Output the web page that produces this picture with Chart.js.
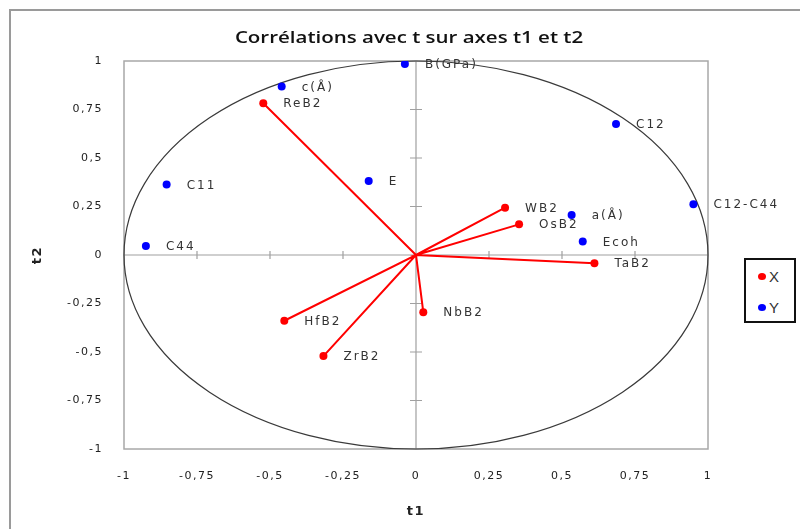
<!DOCTYPE html>
<html>
<head>
<meta charset="utf-8">
<script src="https://cdn.jsdelivr.net/npm/chart.js@4/dist/chart.umd.min.js"></script>
<style>
  html, body { margin: 0; padding: 0; background: #fff; }
  #wrap { position: relative; width: 800px; height: 529px; overflow: hidden; }
  #frame { position: absolute; left: 9px; top: 9px; width: 820px; height: 540px;
           border-left: 2px solid #9a9a9a; border-top: 2px solid #9a9a9a; }
  #chart { position: absolute; left: 0; top: 0; }
  #title { position: absolute; left: 0; width: 818px; top: 26px; text-align: center;
           font: 600 16px "Open Sans", sans-serif; color: #111; line-height: 22px;
           transform: scaleX(1.28); transform-origin: 409px 0; }
  #legend { position: absolute; left: 744px; top: 258px; width: 48px; height: 61px;
            border: 2px solid #111; background: #fff; }
  .item { position: absolute; left: 12px; height: 16px; display: flex; align-items: center;
          font: 15px "Liberation Sans", sans-serif; color: #333; }
  .dot { width: 8px; height: 7px; border-radius: 50%; margin-right: 3px; }
</style>
</head>
<body>
<div id="wrap">
  <div id="frame"></div>
  <canvas id="chart" width="800" height="529"></canvas>
  <div id="title">Corrélations avec t sur axes t1 et t2</div>
  <div id="legend"></div>
</div>
<script>
// Variables X (drawn as rays from the origin)
const xNames = ['ReB2', 'WB2', 'OsB2', 'TaB2', 'NbB2', 'HfB2', 'ZrB2'];
const xT1 = [-0.523, 0.305, 0.353, 0.611, 0.025, -0.451, -0.317];
const xT2 = [0.782, 0.244, 0.158, -0.043, -0.295, -0.339, -0.521];

// Variables Y (drawn as points)
const yNames = ['B(GPa)', 'c(Å)', 'C11', 'C44', 'E', 'C12', 'C12-C44', 'a(Å)', 'Ecoh'];
const yT1 = [-0.038, -0.460, -0.854, -0.925, -0.162, 0.685, 0.950, 0.533, 0.571];
const yT2 = [0.985, 0.868, 0.364, 0.046, 0.381, 0.675, 0.261, 0.206, 0.069];

// Axis ticks
const tickValues = [-1, -0.75, -0.5, -0.25, 0, 0.25, 0.5, 0.75, 1];
const tickLabels = ['-1', '-0,75', '-0,5', '-0,25', '0', '0,25', '0,5', '0,75', '1'];

const RED = '#ff0000';
const BLUE = '#0000ff';

// Each X variable becomes a segment origin -> point
const rayData = [];
xNames.forEach((n, i) => {
  rayData.push({ x: 0, y: 0 });
  rayData.push({ x: xT1[i], y: xT2[i], name: n });
});
const yData = yNames.map((n, i) => ({ x: yT1[i], y: yT2[i], name: n }));

const tickFont = { family: 'DejaVu Sans', size: 11 };

// Frame, zero axes with cross ticks, and the unit correlation circle
const axesPlugin = {
  id: 'axesCircle',
  beforeDraw(chart) {
    chart.ctx.letterSpacing = '1.5px';
  },
  beforeDatasetsDraw(chart) {
    const { ctx, chartArea: a, scales: { x, y } } = chart;
    ctx.save();
    ctx.letterSpacing = '0px';
    ctx.strokeStyle = '#a8a8a8';
    ctx.lineWidth = 1.5;
    ctx.strokeRect(a.left, a.top, a.right - a.left, a.bottom - a.top);

    const x0 = x.getPixelForValue(0), y0 = y.getPixelForValue(0);
    ctx.strokeStyle = '#a0a0a0';
    ctx.lineWidth = 1.2;
    ctx.beginPath();
    ctx.moveTo(a.left, y0); ctx.lineTo(a.right, y0);
    ctx.moveTo(x0, a.top); ctx.lineTo(x0, a.bottom);
    tickValues.forEach(v => {
      if (v === 0 || Math.abs(v) === 1) return;
      const px = x.getPixelForValue(v);
      ctx.moveTo(px, y0 - 4); ctx.lineTo(px, y0 + 4);
      const py = y.getPixelForValue(v);
      ctx.moveTo(x0 - 6, py); ctx.lineTo(x0 + 6, py);
    });
    ctx.stroke();

    const rx = x.getPixelForValue(1) - x0;
    const ry = y0 - y.getPixelForValue(1);
    ctx.strokeStyle = '#3a3a3a';
    ctx.lineWidth = 1.2;
    ctx.beginPath();
    ctx.ellipse(x0, y0, rx, ry, 0, 0, Math.PI * 2);
    ctx.stroke();
    ctx.restore();
  },
  afterDatasetsDraw(chart) {
    const { ctx } = chart;
    ctx.save();
    ctx.letterSpacing = '2px';
    ctx.font = '12px "DejaVu Sans"';
    ctx.fillStyle = '#333';
    ctx.textAlign = 'left';
    ctx.textBaseline = 'middle';
    chart.data.datasets.forEach((ds, di) => {
      const meta = chart.getDatasetMeta(di);
      meta.data.forEach((el, i) => {
        const raw = ds.data[i];
        if (!raw.name) return;
        ctx.fillText(raw.name, el.x + 20, el.y + 1);
      });
    });
    ctx.restore();
  }
};

const chart = new Chart(document.getElementById('chart'), {
  type: 'scatter',
  data: {
    datasets: [
      {
        label: 'X',
        data: rayData,
        showLine: true,
        borderColor: RED,
        borderWidth: 2,
        backgroundColor: RED,
        pointBackgroundColor: RED,
        pointBorderWidth: 0,
        pointRadius: c => (c.dataIndex % 2 === 1 ? 4 : 0)
      },
      {
        label: 'Y',
        data: yData,
        backgroundColor: BLUE,
        pointBackgroundColor: BLUE,
        pointBorderWidth: 0,
        pointRadius: 4
      }
    ]
  },
  options: {
    responsive: false,
    animation: false,
    events: [],
    layout: { padding: { left: 0, right: 92, top: 61, bottom: 0 } },
    plugins: {
      legend: { display: false },
      tooltip: { enabled: false },
      title: { display: false }
    },
    scales: {
      x: {
        type: 'linear', min: -1, max: 1,
        afterBuildTicks: s => { s.ticks = tickValues.map(v => ({ value: v })); },
        afterFit: s => { s.height = 80; },
        grid: { display: false, drawTicks: false },
        border: { display: false },
        ticks: {
          color: '#222', font: tickFont, padding: 21, maxRotation: 0, autoSkip: false,
          callback: v => tickLabels[tickValues.indexOf(v)]
        },
        title: {
          display: true, text: 't1', color: '#222',
          font: { family: 'DejaVu Sans', size: 13, weight: 'bold' },
          padding: { top: 0, bottom: 10 }
        }
      },
      y: {
        type: 'linear', min: -1, max: 1,
        afterBuildTicks: s => { s.ticks = tickValues.map(v => ({ value: v })); },
        afterFit: s => { s.width = 124; },
        grid: { display: false, drawTicks: false },
        border: { display: false },
        ticks: {
          color: '#222', font: tickFont, padding: 21, autoSkip: false,
          callback: v => tickLabels[tickValues.indexOf(v)]
        },
        title: {
          display: true, text: 't2', color: '#222',
          font: { family: 'DejaVu Sans', size: 13, weight: 'bold' },
          padding: { top: 30, bottom: 0 }
        }
      }
    }
  },
  plugins: [axesPlugin]
});

// Legend built from the datasets
const legend = document.getElementById('legend');
chart.data.datasets.forEach((ds, i) => {
  const item = document.createElement('div');
  item.className = 'item';
  item.style.top = (8 + i * 31) + 'px';
  const dot = document.createElement('span');
  dot.className = 'dot';
  dot.style.background = ds.backgroundColor;
  const txt = document.createElement('span');
  txt.textContent = ds.label;
  item.appendChild(dot);
  item.appendChild(txt);
  legend.appendChild(item);
});
</script>
</body>
</html>
